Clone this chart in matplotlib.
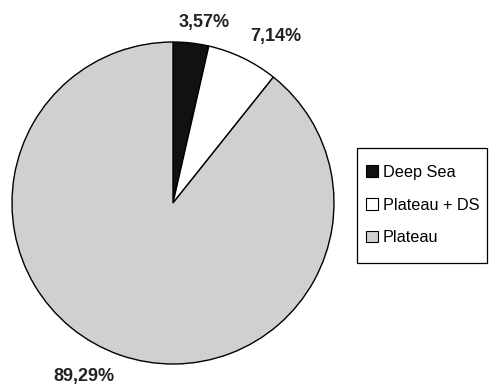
import matplotlib
matplotlib.use("Agg")
import numpy as np
import matplotlib.pyplot as plt
from matplotlib.patches import Patch, Rectangle

categories = ["Deep Sea", "Plateau + DS", "Plateau"]
counts = [1, 2, 25]
colors = ["#111111", "#ffffff", "#d0d0d0"]

# label placement style (radial distance, angular offset in degrees)
label_dist = [1.14, 1.216, 1.21]
label_dang = [-3.4, -6.0, -7.8]

plt.rcParams['font.family'] = ['Liberation Sans', 'DejaVu Sans']

W, H = 490, 390
fig = plt.figure(figsize=(W/100, H/100), dpi=100)
cx, cy, r = 173, 203, 161
ax = fig.add_axes([(cx - r)/W, (H - cy - r)/H, 2*r/W, 2*r/H])

wedges, texts, autotexts = ax.pie(
    counts, colors=colors, startangle=90, counterclock=False,
    autopct=lambda p: f"{p:.2f}".replace(".", ",") + "%",
    pctdistance=1.17,
    wedgeprops=dict(edgecolor="black", linewidth=1.0),
    textprops=dict(fontsize=13, fontweight="bold", color="#222222"),
)
for w, t, d, da in zip(wedges, autotexts, label_dist, label_dang):
    w.set_clip_on(False)
    mid = np.deg2rad((w.theta1 + w.theta2) / 2 + da)
    t.set_position((d * np.cos(mid), d * np.sin(mid)))
ax.set_xlim(-1, 1)
ax.set_ylim(-1, 1)
ax.set_aspect('equal')
ax.axis('off')

handles = [Patch(facecolor=c, edgecolor="black", linewidth=0.8) for c in colors]
leg = fig.legend(handles, categories, loc="upper left",
                 bbox_to_anchor=(366/W, 1 - 165/H),
                 fontsize=11.7, frameon=False,
                 handlelength=0.74, handleheight=0.74, handletextpad=0.31,
                 labelspacing=1.08, borderpad=0, borderaxespad=0)

fig.add_artist(Rectangle((357/W, 1 - 263/H), 130/W, 115/H,
                         transform=fig.transFigure, facecolor="none",
                         edgecolor="black", linewidth=0.9))

fig.savefig("out.png", dpi=100)
